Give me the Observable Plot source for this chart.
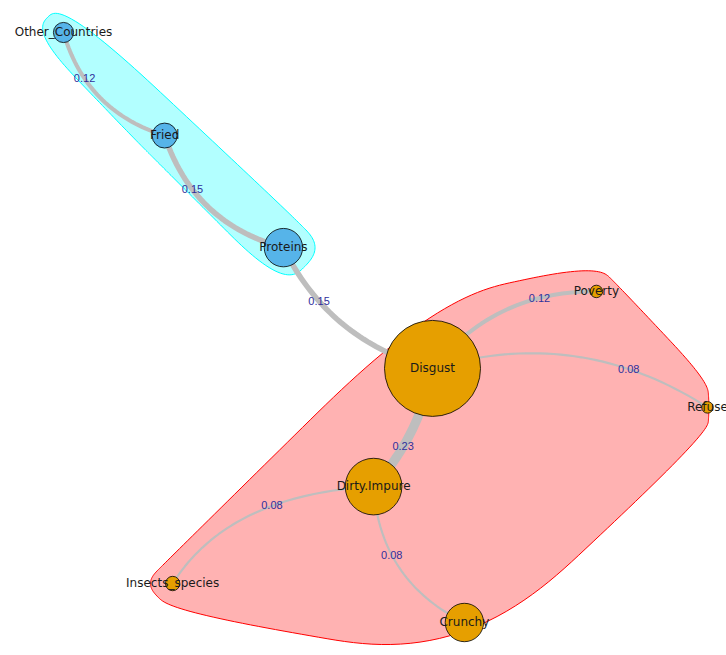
<!DOCTYPE html>
<html><head><meta charset="utf-8">
<script src="https://cdn.jsdelivr.net/npm/d3@7"></script>
<script src="https://cdn.jsdelivr.net/npm/@observablehq/plot@0.6"></script>
<style>body{margin:0;background:#fff}</style>
</head><body><div id="chart"></div>
<script>
// ---- data ----
const nodeNames = ["Other_Countries","Fried","Proteins","Disgust","Poverty","Refuse","Dirty.Impure","Crunchy","Insects_species"];
const nodeX     = [-1.000, -0.686, -0.317, 0.146, 0.655, 1.000, -0.037, 0.245, -0.661];
const nodeY     = [ 0.916,  0.596,  0.248,-0.127, 0.112,-0.248, -0.494,-0.916, -0.795];
const nodeFreq  = [21, 26, 40, 100, 13, 12, 59, 40, 15];
const nodeGroup = [1, 1, 1, 2, 2, 2, 2, 2, 2];

const edgeFrom   = ["Other_Countries","Fried","Proteins","Disgust","Disgust","Disgust","Dirty.Impure","Dirty.Impure"];
const edgeTo     = ["Fried","Proteins","Disgust","Poverty","Refuse","Dirty.Impure","Insects_species","Crunchy"];
const edgeWeight = [0.12, 0.15, 0.15, 0.12, 0.08, 0.23, 0.08, 0.08];
const edgeBend   = [0.27, 0.27, 0.23, -0.24, -0.23, -0.14, 0.25, 0.29];
const edgeSkew   = [0.5, 0.5, 0.5, 0.5, 0.5, 0.5, 0.6, 0.5];
const edgeLabelT = [0.33, 0.35, 0.32, 0.70, 0.70, 0.63, 0.40, 0.41];

// ---- styles ----
const groupFill  = {1: "#00FFFF", 2: "#FF0000"};
const nodeColor  = {1: "#56B4E9", 2: "#E69F00"};
const expandPx = 21;
const hullRightTrimPx = {Refuse: 25};

// ---- scales ----
const xOpt = {domain: [-1, 1], range: [63, 707], axis: null};
const yOpt = {domain: [-0.916, 0.916], range: [622, 32], axis: null};
const rOpt = {type: "linear", domain: [0, 100], range: [0, 48]};
const rScale = Plot.scale({r: rOpt});
const ppu = (xOpt.range[1] - xOpt.range[0]) / (xOpt.domain[1] - xOpt.domain[0]);

const nodes = nodeNames.map((name, i) => ({name, x: nodeX[i], y: nodeY[i], freq: nodeFreq[i], group: nodeGroup[i]}));
const byName = new Map(nodes.map(d => [d.name, d]));

// ---- edges as quadratic curves ----
function bez(p0, p1, p2, t) {
  const a = (1 - t) * (1 - t), b = 2 * t * (1 - t), c = t * t;
  return {x: a * p0.x + b * p1.x + c * p2.x, y: a * p0.y + b * p1.y + c * p2.y};
}
const edges = edgeFrom.map((f, i) => {
  const s = byName.get(f), e = byName.get(edgeTo[i]);
  const dx = e.x - s.x, dy = e.y - s.y;
  const k = edgeSkew[i];
  const ctrl = {x: s.x + k * dx + edgeBend[i] * dy, y: s.y + k * dy - edgeBend[i] * dx};
  const pts = d3.range(0, 41).map(j => bez(s, ctrl, e, j / 40));
  const lab = bez(s, ctrl, e, edgeLabelT[i]);
  return {pts, w: edgeWeight[i], label: {x: lab.x, y: lab.y, text: edgeWeight[i].toFixed(2)}};
});
const edgeWidth = w => 47 * w - 1.6;

// ---- group hulls (igraph-style: expanded diamonds, convex hull, x-spline) ----
function fBlend(num, den) {
  const p = 2 * den * den, u = num / den;
  return u * u * u * (10 - p + (2 * p - 15) * u + (6 - p) * u * u);
}
function xsplineClosed(P, s = 0.5, steps = 30) {
  const n = P.length, out = [];
  for (let k = 0; k < n; k++) {
    const Q = [P[(k - 1 + n) % n], P[k], P[(k + 1) % n], P[(k + 2) % n]];
    for (let i = 0; i < steps; i++) {
      const t = i / steps;
      const A0 = t < s ? fBlend(t - s, -1 - s) : 0;
      const A2 = fBlend(t + s, 1 + s);
      const A1 = fBlend(t - 1 - s, -1 - s);
      const A3 = t > 1 - s ? fBlend(t - 1 + s, 1 + s) : 0;
      const w = A0 + A1 + A2 + A3;
      out.push({
        x: (A0 * Q[0][0] + A1 * Q[1][0] + A2 * Q[2][0] + A3 * Q[3][0]) / w,
        y: (A0 * Q[0][1] + A1 * Q[1][1] + A2 * Q[2][1] + A3 * Q[3][1]) / w
      });
    }
  }
  return out;
}
function hullFor(g) {
  const pts = [];
  nodes.filter(d => d.group === g).forEach(d => {
    const p = (rScale.apply(d.freq) + expandPx) / ppu;
    const pr = p - (hullRightTrimPx[d.name] || 0) / ppu;
    pts.push([d.x, d.y], [d.x - p, d.y], [d.x + pr, d.y], [d.x, d.y - p], [d.x, d.y + p]);
  });
  return xsplineClosed(d3.polygonHull(pts));
}

const marks = [];
[1, 2].forEach(g => {
  marks.push(Plot.line(hullFor(g), {x: "x", y: "y", curve: "linear-closed",
    fill: groupFill[g], fillOpacity: 0.3, stroke: groupFill[g], strokeWidth: 1}));
});
edges.forEach(e => {
  marks.push(Plot.line(e.pts, {x: "x", y: "y", stroke: "#BEBEBE", strokeWidth: edgeWidth(e.w), strokeLinecap: "round"}));
});
marks.push(Plot.text(edges.map(e => e.label), {x: "x", y: "y", text: "text",
  fill: "#30309c", fontFamily: "Liberation Sans, Arial, sans-serif", fontSize: 11}));
[1, 2].forEach(g => {
  marks.push(Plot.dot(nodes.filter(d => d.group === g), {x: "x", y: "y", r: "freq",
    fill: nodeColor[g], stroke: "#000", strokeWidth: 0.8}));
});
marks.push(Plot.text(nodes, {x: "x", y: "y", text: "name",
  fill: "#1a1a1a", fontFamily: "DejaVu Sans, sans-serif", fontSize: 12}));

const chart = Plot.plot({
  width: 726, height: 655, margin: 0,
  x: xOpt, y: yOpt, r: rOpt,
  style: {background: "#fff"},
  marks
});
document.getElementById("chart").appendChild(chart);
</script></body></html>
